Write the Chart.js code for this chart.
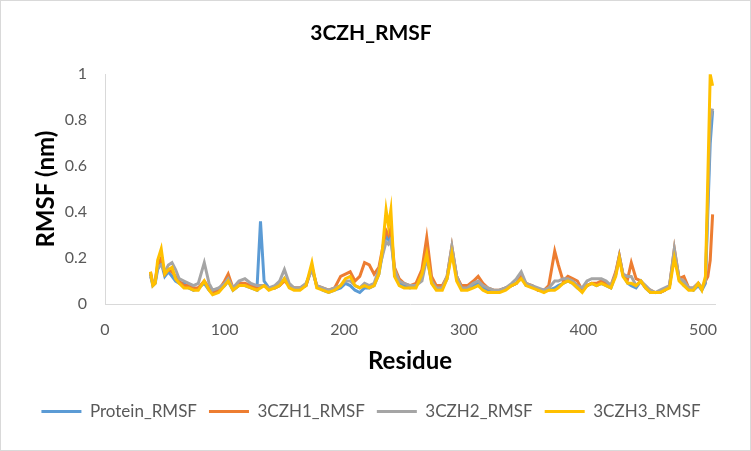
<!DOCTYPE html>
<html>
<head>
<meta charset="utf-8">
<script src="https://cdn.jsdelivr.net/npm/chart.js@4.4.1/dist/chart.umd.min.js"></script>
<style>
  html, body { margin: 0; padding: 0; background: #fff; }
  #wrap { width: 751px; height: 451px; box-sizing: border-box; border: 1px solid #d9d9d9; position: relative; }
</style>
</head>
<body>
<div id="wrap"><canvas id="rmsfChart" width="749" height="449"></canvas></div>
<script>
// residue numbers (shared x values)
var residues = [38,40,42,44,47,50,53,56,59,62,66,70,74,78,83,87,90,95,100,103,107,112,117,122,127,130,133,137,142,146,150,154,158,163,168,173,177,182,187,192,197,201,205,209,213,217,221,225,229,232,235,237,239,242,246,250,255,260,265,269,273,277,282,286,290,294,298,303,308,312,316,320,325,330,335,340,344,348,352,357,362,367,371,376,379,383,387,391,395,399,403,407,411,415,419,423,427,430,433,437,440,444,448,452,456,460,464,468,472,476,480,484,488,492,496,499,502,504,506,508];

var proteinRmsf = [.13,.08,.09,.15,.18,.12,.14,.12,.10,.09,.09,.07,.06,.07,.09,.06,.05,.06,.08,.10,.06,.08,.08,.07,.06,.36,.10,.07,.07,.08,.11,.08,.07,.07,.08,.16,.08,.06,.05,.06,.07,.09,.08,.06,.05,.07,.07,.08,.13,.22,.30,.28,.30,.14,.09,.08,.07,.08,.12,.22,.10,.07,.07,.11,.24,.12,.07,.07,.08,.09,.07,.06,.05,.06,.07,.08,.09,.12,.08,.08,.06,.06,.06,.07,.08,.09,.10,.09,.07,.06,.08,.09,.08,.09,.08,.07,.13,.21,.13,.09,.08,.07,.10,.07,.05,.05,.05,.06,.08,.22,.11,.08,.07,.06,.08,.06,.09,.40,.70,.84];
var czh1Rmsf = [.14,.09,.10,.17,.20,.13,.15,.14,.12,.10,.08,.08,.07,.07,.10,.07,.05,.06,.10,.13,.07,.09,.09,.08,.07,.08,.08,.07,.07,.08,.10,.08,.07,.07,.08,.16,.08,.07,.06,.07,.12,.13,.14,.10,.12,.18,.17,.13,.16,.24,.32,.30,.33,.16,.11,.09,.08,.09,.15,.29,.12,.08,.08,.12,.25,.12,.08,.08,.10,.12,.09,.07,.06,.06,.07,.08,.09,.12,.09,.08,.06,.06,.08,.23,.17,.10,.12,.11,.10,.06,.08,.09,.09,.10,.09,.08,.14,.21,.13,.11,.18,.11,.10,.07,.06,.05,.05,.06,.08,.24,.11,.12,.07,.07,.09,.07,.10,.12,.19,.39];
var czh2Rmsf = [.12,.09,.10,.16,.17,.14,.17,.18,.15,.11,.10,.09,.08,.09,.18,.09,.06,.07,.09,.11,.07,.10,.11,.09,.08,.08,.08,.07,.08,.10,.15,.09,.07,.07,.09,.15,.08,.07,.06,.07,.08,.10,.10,.08,.07,.09,.08,.09,.15,.21,.27,.26,.28,.15,.10,.09,.08,.08,.10,.20,.10,.07,.07,.12,.25,.12,.07,.07,.09,.10,.08,.07,.06,.06,.07,.09,.11,.14,.09,.08,.07,.06,.07,.10,.10,.11,.11,.10,.08,.07,.10,.11,.11,.11,.10,.08,.13,.20,.13,.12,.12,.08,.10,.08,.06,.05,.06,.07,.08,.24,.11,.10,.07,.07,.09,.07,.10,.45,.80,.85];
var czh3Rmsf = [.14,.08,.09,.19,.24,.13,.15,.16,.11,.09,.07,.07,.06,.06,.10,.06,.04,.05,.08,.10,.06,.08,.08,.07,.06,.07,.08,.06,.07,.08,.11,.07,.06,.06,.08,.18,.07,.06,.05,.06,.08,.11,.12,.08,.07,.08,.07,.08,.13,.24,.41,.34,.41,.12,.08,.07,.07,.07,.13,.22,.09,.06,.06,.11,.22,.10,.06,.06,.07,.08,.06,.05,.05,.05,.06,.08,.09,.11,.08,.07,.06,.05,.06,.06,.07,.09,.10,.09,.07,.05,.08,.09,.08,.09,.08,.07,.12,.20,.12,.09,.09,.08,.10,.07,.05,.05,.05,.06,.07,.20,.10,.08,.06,.06,.09,.06,.12,.55,1.00,.95];

var seriesNames = ['Protein_RMSF', '3CZH1_RMSF', '3CZH2_RMSF', '3CZH3_RMSF'];
var seriesColors = ['#5B9BD5', '#ED7D31', '#A5A5A5', '#FFC000'];
var seriesValues = [proteinRmsf, czh1Rmsf, czh2Rmsf, czh3Rmsf];

var xTicks = [0, 100, 200, 300, 400, 500];
var yTicks = [0, 0.2, 0.4, 0.6, 0.8, 1];

var fontFamily = 'Lato, "Open Sans", sans-serif';

var datasets = seriesValues.map(function (vals, i) {
    return {
        label: seriesNames[i],
        data: vals.map(function (v, j) { return { x: residues[j], y: v }; }),
        borderColor: seriesColors[i],
        backgroundColor: seriesColors[i],
        borderWidth: 3,
        pointRadius: 0,
        tension: 0,
        // later series drawn on top, like Excel
        order: seriesValues.length - i
    };
});

var ctx = document.getElementById('rmsfChart').getContext('2d');
var rmsfChart = new Chart(ctx, {
    type: 'line',
    data: { datasets: datasets },
    options: {
        responsive: false,
        animation: false,
        layout: { padding: { left: 26, right: 35, top: 20, bottom: 20 } },
        plugins: {
            title: {
                display: true,
                text: '3CZH_RMSF',
                color: '#000',
                font: { family: fontFamily, size: 21, weight: 'bold' },
                padding: { top: 0, bottom: 28 }
            },
            legend: {
                position: 'bottom',
                labels: {
                    color: '#595959',
                    font: { family: fontFamily, size: 17 },
                    usePointStyle: true,
                    pointStyle: 'line',
                    pointStyleWidth: 40,
                    boxWidth: 40,
                    padding: 12,
                    sort: function (a, b) { return a.datasetIndex - b.datasetIndex; }
                }
            },
            tooltip: { enabled: false }
        },
        scales: {
            x: {
                type: 'linear',
                min: 0,
                max: 510,
                afterBuildTicks: function (scale) {
                    scale.ticks = xTicks.map(function (v) { return { value: v }; });
                },
                grid: { display: false },
                border: { display: true, color: '#d9d9d9', width: 1 },
                ticks: { color: '#595959', font: { family: fontFamily, size: 16 }, padding: 8 },
                title: {
                    display: true,
                    text: 'Residue',
                    color: '#000',
                    font: { family: fontFamily, size: 24, weight: 'bold' },
                    padding: { top: 0, bottom: 15 }
                }
            },
            y: {
                min: 0,
                max: 1,
                afterBuildTicks: function (scale) {
                    scale.ticks = yTicks.map(function (v) { return { value: v }; });
                },
                afterFit: function (scale) { scale.width = 78; },
                grid: { display: false },
                border: { display: true, color: '#d9d9d9', width: 1 },
                ticks: {
                    color: '#595959',
                    font: { family: fontFamily, size: 16 },
                    padding: 10,
                    callback: function (value) { return String(value); }
                },
                title: {
                    display: true,
                    text: 'RMSF (nm)',
                    color: '#000',
                    font: { family: fontFamily, size: 24, weight: 'bold' },
                    padding: { top: 5, bottom: 4 }
                }
            }
        }
    }
});
</script>
</body>
</html>
